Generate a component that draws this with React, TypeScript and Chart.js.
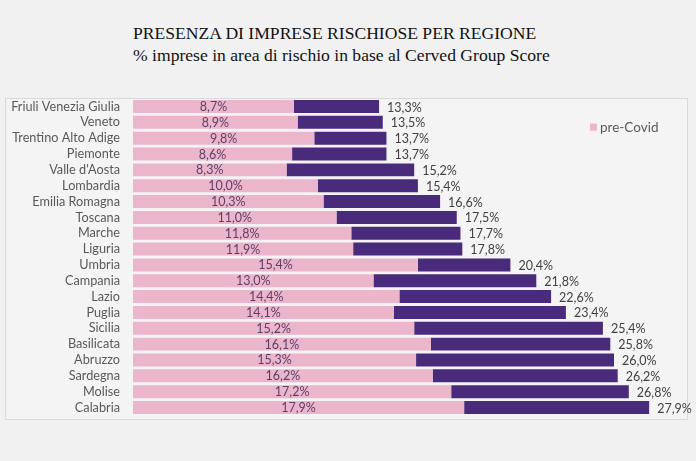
import React, { useEffect, useRef } from "react";
import { Chart, registerables } from "chart.js";

Chart.register(...registerables);

const regions = [
  "Friuli Venezia Giulia",
  "Veneto",
  "Trentino Alto Adige",
  "Piemonte",
  "Valle d'Aosta",
  "Lombardia",
  "Emilia Romagna",
  "Toscana",
  "Marche",
  "Liguria",
  "Umbria",
  "Campania",
  "Lazio",
  "Puglia",
  "Sicilia",
  "Basilicata",
  "Abruzzo",
  "Sardegna",
  "Molise",
  "Calabria",
];

const preCovid = [8.7, 8.9, 9.8, 8.6, 8.3, 10.0, 10.3, 11.0, 11.8, 11.9, 15.4, 13.0, 14.4, 14.1, 15.2, 16.1, 15.3, 16.2, 17.2, 17.9];
const postCovid = [13.3, 13.5, 13.7, 13.7, 15.2, 15.4, 16.6, 17.5, 17.7, 17.8, 20.4, 21.8, 22.6, 23.4, 25.4, 25.8, 26.0, 26.2, 26.8, 27.9];

const titleText = "PRESENZA DI IMPRESE RISCHIOSE PER REGIONE";
const subtitleText = "% imprese in area di rischio in base al Cerved Group Score";
const legendLabel = "pre-Covid";

const PINK = "#ebb5cb";
const PURPLE = "#4a2a7a";
const FONT = "Lato, 'Open Sans', sans-serif";

const fmt = (v: number) => v.toFixed(1).replace(".", ",") + "%";

export default function App() {
  const ref = useRef<HTMLCanvasElement | null>(null);

  useEffect(() => {
    if (!ref.current) return;

    const labelsPlugin = {
      id: "barLabels",
      afterDatasetsDraw(chart: any) {
        const ctx = chart.ctx;
        ctx.save();
        ctx.textBaseline = "middle";
        const m0 = chart.getDatasetMeta(0);
        const m1 = chart.getDatasetMeta(1);
        ctx.font = `12.5px ${FONT}`;
        ctx.fillStyle = "#5c3f66";
        ctx.textAlign = "center";
        m0.data.forEach((el: any, i: number) => {
          ctx.fillText(fmt(preCovid[i]), (el.x + el.base) / 2, el.y + 0.5);
        });
        ctx.fillStyle = "#404040";
        ctx.textAlign = "left";
        m1.data.forEach((el: any, i: number) => {
          ctx.fillText(fmt(postCovid[i]), el.x + 8, el.y + 1);
        });
        ctx.restore();
      },
    };

    const legendPlugin = {
      id: "customLegend",
      afterDraw(chart: any) {
        const ctx = chart.ctx;
        const ca = chart.chartArea;
        ctx.save();
        const x = ca.right - 98;
        const y = ca.top + 29;
        ctx.fillStyle = PINK;
        ctx.fillRect(x, y - 4, 7, 7);
        ctx.fillStyle = "#595959";
        ctx.font = `13.5px ${FONT}`;
        ctx.textBaseline = "middle";
        ctx.textAlign = "left";
        ctx.fillText(legendLabel, x + 10, y);
        ctx.restore();
      },
    };

    const chart = new Chart(ref.current, {
      type: "bar",
      data: {
        labels: regions,
        datasets: [
          {
            label: "pre-Covid",
            data: preCovid,
            backgroundColor: PINK,
            borderWidth: 0,
            grouped: false,
            barPercentage: 0.82,
            categoryPercentage: 1,
          } as any,
          {
            label: "post-Covid",
            data: preCovid.map((p, i) => [p, postCovid[i]]),
            backgroundColor: PURPLE,
            borderWidth: 0,
            grouped: false,
            barPercentage: 0.82,
            categoryPercentage: 1,
          } as any,
        ],
      },
      options: {
        indexAxis: "y",
        responsive: false,
        animation: false,
        layout: { padding: { left: 5, top: 98.6, bottom: 45.6, right: 8 } },
        plugins: {
          legend: { display: false },
          tooltip: { enabled: false },
          title: { display: false },
        },
        scales: {
          x: {
            display: false,
            min: 0,
            max: 30,
          },
          y: {
            grid: { display: false, drawTicks: false },
            border: { display: false },
            ticks: {
              color: "#595959",
              font: { family: FONT, size: 12.7 },
              padding: 13,
              autoSkip: false,
            },
            afterFit: (s: any) => {
              s.width = 128;
            },
          },
        },
      },
      plugins: [labelsPlugin, legendPlugin],
    });

    return () => chart.destroy();
  }, []);

  return (
    <div
      style={{
        position: "fixed",
        left: 0,
        top: 0,
        width: 696,
        height: 461,
        background: "#f1f1f1",
        overflow: "hidden",
      }}
    >
      <div
        style={{
          position: "absolute",
          left: 133,
          top: 22,
          fontFamily: "'Liberation Serif', 'Times New Roman', serif",
          fontSize: 17.6,
          lineHeight: "22px",
          color: "#111",
          whiteSpace: "nowrap",
        }}
      >
        <div>{titleText}</div>
        <div>{subtitleText}</div>
      </div>
      <div
        style={{
          position: "absolute",
          left: 5,
          top: 98,
          width: 683,
          height: 322,
          boxSizing: "border-box",
          border: "1px solid #d9d9d9",
          background: "#f4f4f4",
        }}
      />
      <canvas
        ref={ref}
        width={696}
        height={461}
        style={{ position: "absolute", left: 0, top: 0, width: 696, height: 461 }}
      />
    </div>
  );
}
